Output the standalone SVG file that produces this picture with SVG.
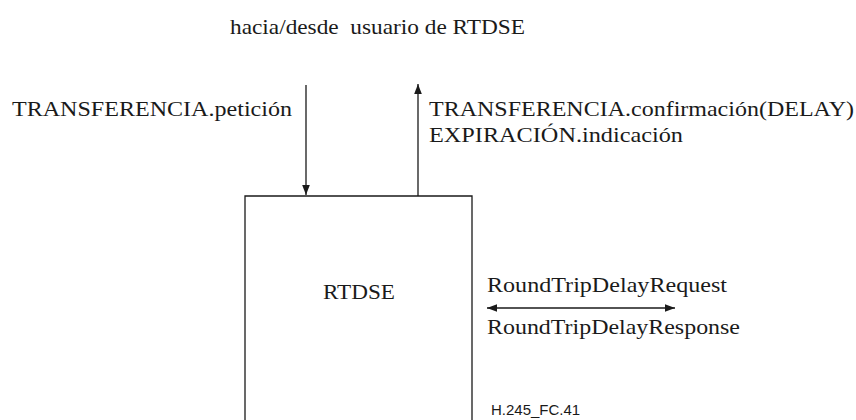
<svg xmlns="http://www.w3.org/2000/svg" width="856" height="420" viewBox="0 0 856 420">
<style>
.t{font-family:'Liberation Serif',serif;font-size:22px;fill:#1a1a1a}
.s{font-family:'Liberation Sans',sans-serif;font-size:15px;fill:#1a1a1a}
.l{stroke:#1a1a1a;stroke-width:1.3;fill:none}
</style>
<defs>
<marker id="a" viewBox="0 0 10 10" refX="10" refY="5" markerWidth="10" markerHeight="10" markerUnits="userSpaceOnUse" orient="auto-start-reverse"><path d="M0,1.2 L10,5 L0,8.8 z" fill="#1a1a1a"/></marker>
</defs>
<rect width="856" height="420" fill="#fff"/>
<g id="rtdse">
<path class="l" d="M245,421 V196 H472 V421"/>
<text class="t" font-family="Liberation Serif" x="323" y="299" textLength="72" lengthAdjust="spacingAndGlyphs">RTDSE</text>
</g>
<g id="connectors">
<line class="l" x1="306" y1="85" x2="306" y2="195" marker-end="url(#a)"/>
<line class="l" x1="418" y1="196" x2="418" y2="84" marker-end="url(#a)"/>
<line class="l" x1="487" y1="308" x2="675" y2="308" marker-start="url(#a)" marker-end="url(#a)"/>
</g>
<g id="labels">
<text class="t" x="230" y="34" xml:space="preserve" textLength="295" lengthAdjust="spacingAndGlyphs">hacia/desde  usuario de RTDSE</text>
<text class="t" x="12" y="116" textLength="280" lengthAdjust="spacingAndGlyphs">TRANSFERENCIA.petición</text>
<text class="t" x="429" y="116" textLength="425" lengthAdjust="spacingAndGlyphs">TRANSFERENCIA.confirmación(DELAY)</text>
<text class="t" x="429" y="142" textLength="254" lengthAdjust="spacingAndGlyphs">EXPIRACIÓN.indicación</text>
<text class="t" x="487" y="292" textLength="240" lengthAdjust="spacingAndGlyphs">RoundTripDelayRequest</text>
<text class="t" x="487" y="334" textLength="253" lengthAdjust="spacingAndGlyphs">RoundTripDelayResponse</text>
<text class="s" x="491" y="415">H.245_FC.41</text>
</g>
</svg>
